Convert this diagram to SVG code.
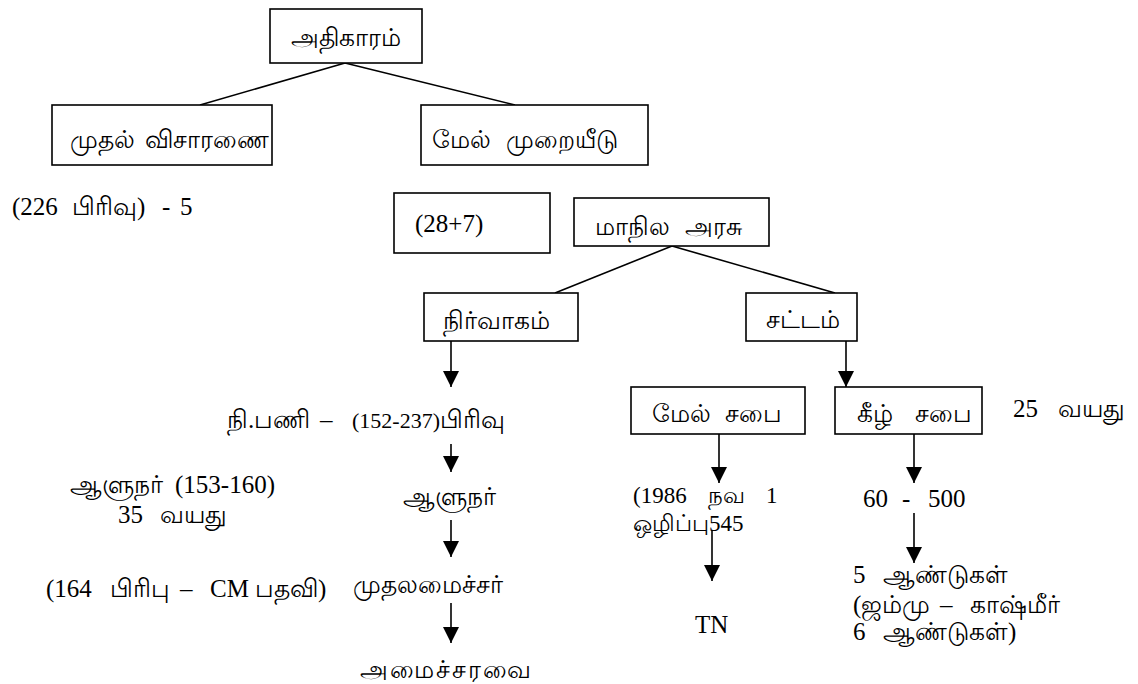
<svg xmlns="http://www.w3.org/2000/svg" width="1138" height="684" viewBox="0 0 1138 684">
<style>
  .box{fill:#fff;stroke:#000;stroke-width:1.6}
  .t{font-family:"Liberation Serif",serif;font-size:25px;fill:#000}
  .s{font-size:23px}
  .c{stroke:#000;stroke-width:1.6;fill:none}
  .a{stroke:#000;stroke-width:1.6;fill:none;marker-end:url(#ah)}
</style>
<defs>
  <marker id="ah" markerUnits="userSpaceOnUse" markerWidth="16" markerHeight="16" refX="16" refY="8" orient="auto" viewBox="0 0 16 16">
    <path d="M0,0 L16,8 L0,16 Z" fill="#000"/>
  </marker>
</defs>
<rect width="1138" height="684" fill="#fff"/>
<g id="connectors">
  <line class="c" x1="345" y1="63" x2="200" y2="105"/>
  <line class="c" x1="345" y1="63" x2="515" y2="105"/>
  <line class="c" x1="672" y1="246" x2="555" y2="293"/>
  <line class="c" x1="672" y1="246" x2="835" y2="293"/>
  <line class="a" x1="451" y1="341" x2="451" y2="387"/>
  <line class="a" x1="451" y1="444" x2="451" y2="472"/>
  <line class="a" x1="451" y1="520" x2="451" y2="557"/>
  <line class="a" x1="451" y1="603" x2="451" y2="643"/>
  <line class="a" x1="846" y1="341" x2="846" y2="387"/>
  <line class="a" x1="719" y1="434" x2="719" y2="483"/>
  <line class="a" x1="712" y1="530" x2="712" y2="581"/>
  <line class="a" x1="914" y1="434" x2="914" y2="483"/>
  <line class="a" x1="914" y1="513" x2="914" y2="563"/>
</g>
<g id="n-adhikaram"><rect class="box" x="270" y="9" width="152" height="54"/><text class="t" x="346" y="46" text-anchor="middle">அதிகாரம்</text></g>
<g id="n-mudhal"><rect class="box" x="52" y="105" width="220" height="60"/><text class="t" y="148"><tspan x="70">முதல்</tspan><tspan x="145">விசாரணை</tspan></text></g>
<g id="n-mel-murai"><rect class="box" x="421" y="105" width="227" height="60"/><text class="t" y="148"><tspan x="432">மேல்</tspan><tspan x="506">முறையீடு</tspan></text></g>
<g id="n-226"><text class="t" y="215"><tspan x="12">(226</tspan><tspan x="72">பிரிவு)</tspan><tspan x="162">-</tspan><tspan x="180">5</tspan></text></g>
<g id="n-28"><rect class="box" x="394" y="193" width="156" height="60"/><text class="t" x="415" y="232">(28+7)</text></g>
<g id="n-maanila"><rect class="box" x="574" y="198" width="195" height="48"/><text class="t" y="235"><tspan x="595">மாநில</tspan><tspan x="685">அரசு</tspan></text></g>
<g id="n-nirvagam"><rect class="box" x="424" y="293" width="154" height="48"/><text class="t" x="443" y="329">நிர்வாகம்</text></g>
<g id="n-sattam"><rect class="box" x="746" y="293" width="111" height="48"/><text class="t" x="766" y="328">சட்டம்</text></g>
<g id="n-nipani"><text class="t" y="428"><tspan x="227">நி.பணி</tspan><tspan x="320">–</tspan><tspan x="352" style="font-size:22px">(152-237)</tspan><tspan>பிரிவு</tspan></text></g>
<g id="n-aalunar"><text class="t" x="449" y="505" text-anchor="middle">ஆளுநர்</text></g>
<g id="n-aalunar-note"><text class="t" y="493"><tspan x="70">ஆளுநர்</tspan><tspan x="175">(153-160)</tspan></text><text class="t" y="523"><tspan x="118">35</tspan><tspan x="160">வயது</tspan></text></g>
<g id="n-cm"><text class="t" x="353" y="593">முதலமைச்சர்</text></g>
<g id="n-cm-note"><text class="t" y="597"><tspan x="46">(164</tspan><tspan x="110">பிரிபு</tspan><tspan x="180">–</tspan><tspan x="210">CM</tspan><tspan x="255">பதவி)</tspan></text></g>
<g id="n-cabinet"><text class="t" x="360" y="678" style="letter-spacing:2px">அமைச்சரவை</text></g>
<g id="n-mel-sabai"><rect class="box" x="631" y="387" width="174" height="47"/><text class="t" y="422"><tspan x="652">மேல்</tspan><tspan x="725">சபை</tspan></text></g>
<g id="n-keezh-sabai"><rect class="box" x="835" y="387" width="147" height="47"/><text class="t" y="422"><tspan x="857">கீழ்</tspan><tspan x="915">சபை</tspan></text></g>
<g id="n-25"><text class="t" y="417"><tspan x="1013">25</tspan><tspan x="1058">வயது</tspan></text></g>
<g id="n-1986"><text class="t s" y="503"><tspan x="633">(1986</tspan><tspan x="708">நவ</tspan><tspan x="766">1</tspan></text><text class="t s" x="633" y="531">ஒழிப்பு545</text></g>
<g id="n-tn"><text class="t" x="695" y="633">TN</text></g>
<g id="n-60"><text class="t" y="507"><tspan x="863">60</tspan><tspan x="902">-</tspan><tspan x="928">500</tspan></text></g>
<g id="n-5yrs"><text class="t" y="583"><tspan x="853">5</tspan><tspan x="883">ஆண்டுகள்</tspan></text><text class="t" y="613"><tspan x="853">(ஜம்மு</tspan><tspan x="940">–</tspan><tspan x="970">காஷ்மீர்</tspan></text><text class="t" y="640"><tspan x="853">6</tspan><tspan x="883">ஆண்டுகள்)</tspan></text></g>
</svg>
